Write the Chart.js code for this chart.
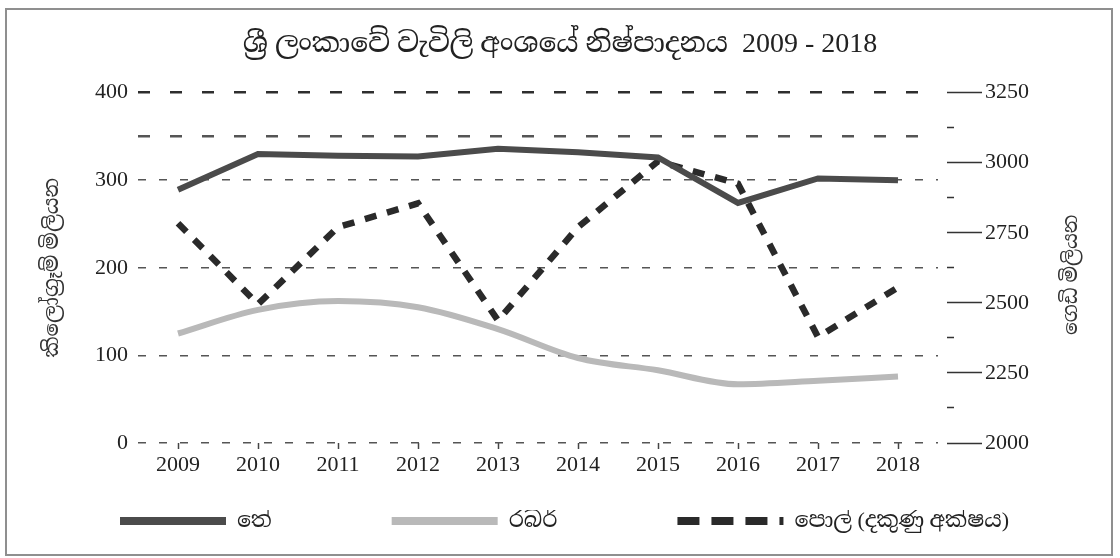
<!DOCTYPE html>
<html lang="si">
<head>
    <meta charset="UTF-8">
    <meta name="viewport" content="width=device-width, initial-scale=1.0">
    <title>ශ්‍රී ලංකාවේ වැවිලි අංශයේ නිෂ්පාදනය 2009 - 2018</title>
    <script src="https://cdn.jsdelivr.net/npm/chart.js"></script>
    <style>
        body {
            margin: 0;
            background-color: #ffffff;
        }
        .wrap {
            position: relative;
            width: 1120px;
            height: 558px;
        }
        .frame {
            position: absolute;
            left: 5px;
            top: 8px;
            width: 1108px;
            height: 548px;
            border: 2px solid #8f8f8f;
            box-sizing: border-box;
            pointer-events: none;
        }
    </style>
</head>
<body>

    <div class="wrap">
        <canvas id="plantationChart" width="1120" height="558"></canvas>
        <div class="frame"></div>
    </div>

    <script>
        // --- Data ---
        const years = ['2009', '2010', '2011', '2012', '2013', '2014', '2015', '2016', '2017', '2018'];

        // tea, million kg (left axis)
        const teaValues = [289, 330, 328, 327, 336, 332, 326, 274, 302, 300];
        // rubber, million kg (left axis)
        const rubberValues = [125, 152, 162, 155, 130, 97, 83, 67, 71, 76];
        // coconut, million nuts (right axis)
        const coconutValues = [2784, 2495, 2770, 2855, 2437, 2770, 3005, 2925, 2378, 2555];

        // left axis grid lines and labels
        const leftGridValues = [0, 100, 200, 300, 350, 400];
        const leftLabelValues = [0, 100, 200, 300, 400];

        const chartTitle = 'ශ්‍රී ලංකාවේ වැවිලි අංශයේ නිෂ්පාදනය  2009 - 2018';
        const leftAxisTitle = 'කිලෝග්‍රෑම් මිලියන';
        const rightAxisTitle = 'ගෙඩි මිලියන';
        const seriesNames = ['තේ', 'රබර්', 'පොල් (දකුණු අක්ෂය)'];

        const FONT = "'Liberation Serif', 'Noto Serif Sinhala', 'Noto Sans Sinhala', serif";

        // legend swatch: empty lead-in, then the visible 106px sample
        const LEGEND_GAP = 120;
        const LEGEND_SAMPLE = 106;

        // right axis title reads bottom-to-top, so draw it ourselves
        const rightTitlePlugin = {
            id: 'rightTitle',
            afterDraw(chart) {
                const ctx = chart.ctx;
                const area = chart.chartArea;
                ctx.save();
                ctx.translate(area.right + 134, (area.top + area.bottom) / 2 + 7);
                ctx.rotate(-Math.PI / 2);
                ctx.font = '20px ' + FONT;
                ctx.fillStyle = '#333';
                ctx.textAlign = 'center';
                ctx.textBaseline = 'middle';
                ctx.fillText(rightAxisTitle, 0, 0);
                ctx.restore();
            }
        };

        const config = {
            type: 'line',
            data: {
                labels: years,
                datasets: [
                    {
                        label: seriesNames[0],
                        data: teaValues,
                        yAxisID: 'y',
                        borderColor: '#4b4b4b',
                        backgroundColor: '#4b4b4b',
                        borderWidth: 6,
                        tension: 0,
                        pointRadius: 0,
                        fill: false
                    },
                    {
                        label: seriesNames[1],
                        data: rubberValues,
                        yAxisID: 'y',
                        borderColor: '#b9b9b9',
                        backgroundColor: '#b9b9b9',
                        borderWidth: 6,
                        tension: 0.4,
                        cubicInterpolationMode: 'monotone',
                        pointRadius: 0,
                        fill: false
                    },
                    {
                        label: seriesNames[2],
                        data: coconutValues,
                        yAxisID: 'y2',
                        borderColor: '#2a2a2a',
                        backgroundColor: '#2a2a2a',
                        borderWidth: 6.5,
                        borderDash: [12, 11],
                        borderCapStyle: 'butt',
                        tension: 0,
                        pointRadius: 0,
                        fill: false
                    }
                ]
            },
            options: {
                responsive: false,
                animation: false,
                devicePixelRatio: 1,
                layout: {
                    padding: { left: 0, right: 0, top: 0, bottom: 16 }
                },
                plugins: {
                    title: {
                        display: true,
                        text: chartTitle,
                        color: '#222',
                        font: { family: FONT, size: 28, weight: 'normal' },
                        padding: { top: 28, bottom: 31 }
                    },
                    legend: {
                        position: 'bottom',
                        align: 'start',
                        labels: {
                            usePointStyle: true,
                            pointStyle: 'line',
                            pointStyleWidth: LEGEND_GAP + LEGEND_SAMPLE,
                            padding: 0,
                            color: '#222',
                            font: { family: FONT, size: 22 },
                            generateLabels: (chart) => {
                                const items = Chart.defaults.plugins.legend.labels.generateLabels(chart);
                                items.forEach((item, i) => {
                                    item.lineWidth = 8;
                                    item.lineDash = i === 2
                                        ? [0, LEGEND_GAP, 22, 12, 22, 12, 22, 12, 8, 1000]
                                        : [0, LEGEND_GAP, LEGEND_SAMPLE, 1000];
                                });
                                return items;
                            }
                        }
                    },
                    tooltip: { enabled: false }
                },
                scales: {
                    x: {
                        offset: true,
                        afterFit: (scale) => { scale.height = 67; },
                        grid: {
                            drawOnChartArea: false,
                            drawTicks: true,
                            offset: false,
                            tickLength: 6,
                            tickWidth: 1.5,
                            tickColor: '#444'
                        },
                        border: { display: false },
                        ticks: {
                            color: '#222',
                            padding: 3,
                            maxRotation: 0,
                            autoSkip: false,
                            font: { family: FONT, size: 22 }
                        }
                    },
                    y: {
                        position: 'left',
                        min: 0,
                        max: 400,
                        afterBuildTicks: (scale) => {
                            scale.ticks = leftGridValues.map(v => ({ value: v }));
                        },
                        afterFit: (scale) => { scale.width = 138; },
                        ticks: {
                            color: '#222',
                            padding: 10,
                            font: { family: FONT, size: 22 },
                            callback: (value) => leftLabelValues.includes(value) ? value : ''
                        },
                        grid: {
                            drawTicks: false,
                            color: (ctx) => ctx.tick && ctx.tick.value === 400 ? '#2e2e2e' : '#555',
                            lineWidth: (ctx) => ctx.tick && ctx.tick.value >= 350 ? 2.5 : 1.6
                        },
                        border: {
                            display: false,
                            dash: (ctx) => ctx.tick && ctx.tick.value >= 350 ? [12, 20] : [8, 13]
                        },
                        title: {
                            display: true,
                            text: leftAxisTitle,
                            color: '#333',
                            font: { family: FONT, size: 21 },
                            padding: { top: 40, bottom: 0 }
                        }
                    },
                    y2: {
                        position: 'right',
                        min: 2000,
                        max: 3250,
                        afterFit: (scale) => { scale.width = 1120 - 938; },
                        ticks: {
                            stepSize: 125,
                            color: '#222',
                            padding: 3,
                            font: { family: FONT, size: 22 },
                            callback: (value) => value % 250 === 0 ? value : ''
                        },
                        grid: {
                            drawOnChartArea: false,
                            drawTicks: true,
                            tickLength: 44,
                            tickWidth: 1.5,
                            tickColor: '#333',
                            tickBorderDash: (ctx) => ctx.tick && ctx.tick.value % 250 === 0 ? [0, 9, 35, 100] : [0, 9, 7, 100]
                        },
                        border: { display: false }
                    }
                }
            },
            plugins: [rightTitlePlugin]
        };

        const ctx = document.getElementById('plantationChart').getContext('2d');
        new Chart(ctx, config);
    </script>

</body>
</html>
